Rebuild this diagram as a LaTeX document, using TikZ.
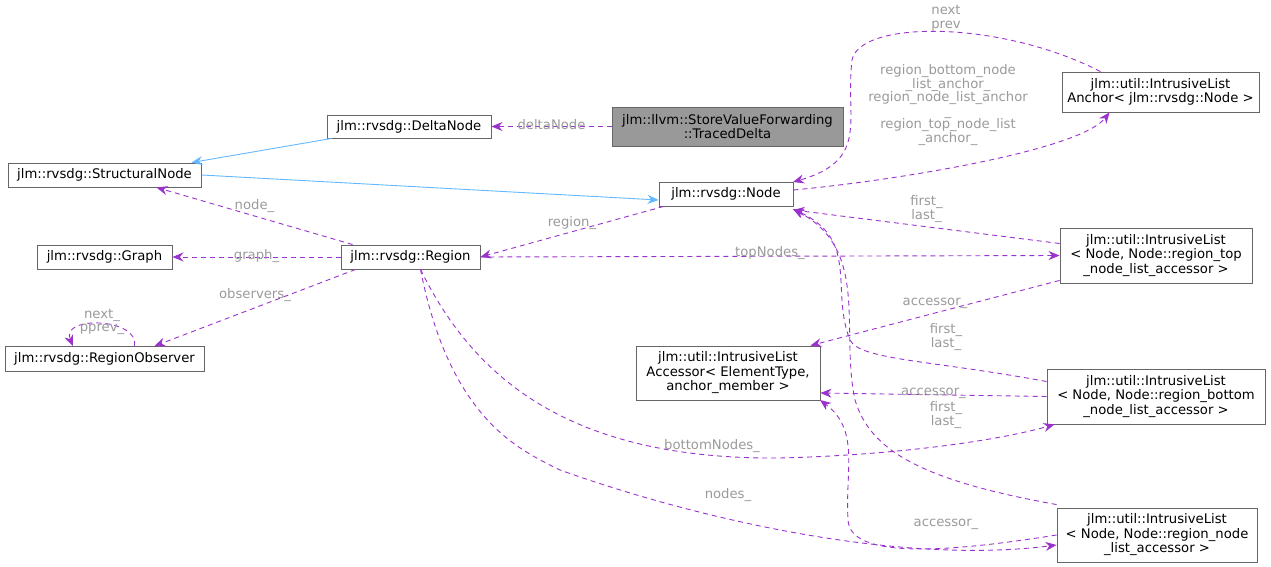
\documentclass[tikz,border=0pt]{standalone}
\usepackage{fontspec}
\setmainfont{DejaVu Sans}
\usetikzlibrary{arrows.meta,calc}
\definecolor{ep}{HTML}{9A32CD}
\definecolor{eb}{HTML}{63B8FF}
\definecolor{lg}{HTML}{9A9A9A}
\begin{document}
\begin{tikzpicture}[x=1pt,y=-1pt,
  box/.style={draw=black!60,line width=0.9pt,fill=white,inner sep=0pt,align=center,font=\fontsize{13.2}{14.5}\selectfont},
  col/.style={draw=ep,line width=0.9pt,dash pattern=on 5pt off 4pt,-{Stealth[length=11pt,width=9pt,fill=ep]}},
  inh/.style={draw=eb,line width=0.9pt,-{Stealth[length=11pt,width=9pt]}},
  lab/.style={text=lg,font=\fontsize{13.2}{13.5}\selectfont,align=center,inner sep=0pt}]
\useasboundingbox (0,0) rectangle (1271,567);
\node[box,fill=black!40,minimum width=231pt,minimum height=39pt] (td) at (727.5,126.5) {jlm::llvm::StoreValueForwarding\\::TracedDelta};
\node[box,minimum width=164pt,minimum height=23pt] (dn) at (409,126.5) {jlm::rvsdg::DeltaNode};
\node[box,minimum width=193pt,minimum height=24pt] (sn) at (104.5,175) {jlm::rvsdg::StructuralNode};
\node[box,minimum width=134pt,minimum height=24pt] (nd) at (726,194) {jlm::rvsdg::Node};
\node[box,minimum width=139pt,minimum height=24pt] (rg) at (410.5,257) {jlm::rvsdg::Region};
\node[box,minimum width=135pt,minimum height=24pt] (gr) at (104.5,257) {jlm::rvsdg::Graph};
\node[box,minimum width=199pt,minimum height=25pt] (ro) at (104.5,359) {jlm::rvsdg::RegionObserver};
\node[box,minimum width=184pt,minimum height=54pt] (ac) at (728,373) {jlm::util::IntrusiveList\\Accessor< ElementType,\\ anchor\_member >};
\node[box,minimum width=197pt,minimum height=40pt] (an) at (1160.5,92) {jlm::util::IntrusiveList\\Anchor< jlm::rvsdg::Node >};
\node[box,minimum width=192pt,minimum height=55pt] (tl) at (1156,255.5) {jlm::util::IntrusiveList\\< Node, Node::region\_top\\\_node\_list\_accessor >};
\node[box,minimum width=218pt,minimum height=55pt] (bl) at (1156,396.5) {jlm::util::IntrusiveList\\< Node, Node::region\_bottom\\\_node\_list\_accessor >};
\node[box,minimum width=200pt,minimum height=54pt] (nl) at (1157,535) {jlm::util::IntrusiveList\\< Node, Node::region\_node\\\_list\_accessor >};

\draw[col] (td.west) -- node[lab,above=-4pt]{deltaNode} (dn.east);
\draw[inh] ($(dn.south west)+(5,0)$) -- ($(sn.north east)+(-10,0)$);
\draw[inh] (sn.east) -- ($(nd.west)+(0,6)$);
\draw[col] ($(rg.north west)+(12,0)$) -- node[lab,above=3pt]{node\_} ($(sn.south east)+(-45,0)$);
\draw[col] ($(nd.south west)+(5,0)$) -- node[lab,above=2pt]{region\_} (rg.east);
\draw[col] (rg.west) -- node[lab,above=-6pt]{graph\_} (gr.east);
\draw[col] ($(rg.south west)+(15,0)$) -- node[lab,above=6pt]{observers\_} ($(ro.north east)+(-50,0)$);
\draw[col] ($(ro.north)+(30,0)$) .. controls (140,318) and (60,315) .. (73,346);
\node[lab] at (102,322) {next\_\\pprev\_};
\draw[col] (rg.east) -- node[lab,above=-4pt]{topNodes\_} (tl.west);
\draw[col] ($(rg.south)+(10,0)$) .. controls (470,370) and (560,460) .. (780,458) .. controls (900,455) and (1000,440) .. ($(bl.south west)+(8,0)$);
\node[lab] at (712,446) {bottomNodes\_};
\draw[col] ($(rg.south)+(10,0)$) .. controls (450,420) and (520,450) .. (560,470) .. controls (700,520) and (900,565) .. ($(nl.west)+(0,10)$);
\node[lab] at (728,495) {nodes\_};
\draw[col] ($(tl.west)+(0,-12)$) -- node[lab,above=4pt]{first\_\\last\_} ($(nd.east)+(0,16)$);
\draw[col] ($(tl.south west)+(0,-3)$) -- node[lab,above=4pt]{accessor\_} ($(ac.north east)+(-10,0)$);
\draw[col] ($(bl.west)+(0,-15)$) .. controls (930,360) and (860,360) .. (850,340) .. controls (830,290) and (860,240) .. (793,209);
\node[lab] at (946,337) {first\_\\last\_};
\draw[col] (bl.west) -- node[lab,above=-4pt]{accessor\_} ($(ac.east)+(0,20)$);
\draw[col] ($(nl.north west)+(0,-3)$) .. controls (920,480) and (870,450) .. (855,400) .. controls (840,330) and (870,250) .. (793,209);
\node[lab] at (946,415) {first\_\\last\_};
\draw[col] (nl.west) .. controls (950,552) and (850,560) .. (848,520) .. controls (845,470) and (860,430) .. (820,400);
\node[lab] at (946,524) {accessor\_};
\draw[col] ($(an.north)+(-60,0)$) .. controls (1000,20) and (860,20) .. (852,60) .. controls (845,120) and (870,160) .. (793,182);
\node[lab] at (946,18) {next\\prev};
\draw[col] ($(nd.east)+(0,-4)$) .. controls (900,180) and (1080,150) .. ($(an.south west)+(48,0)$);
\node[lab] at (948,105) {region\_bottom\_node\\\_list\_anchor\_\\region\_node\_list\_anchor\\\_\\region\_top\_node\_list\\\_anchor\_};
\end{tikzpicture}
\end{document}
